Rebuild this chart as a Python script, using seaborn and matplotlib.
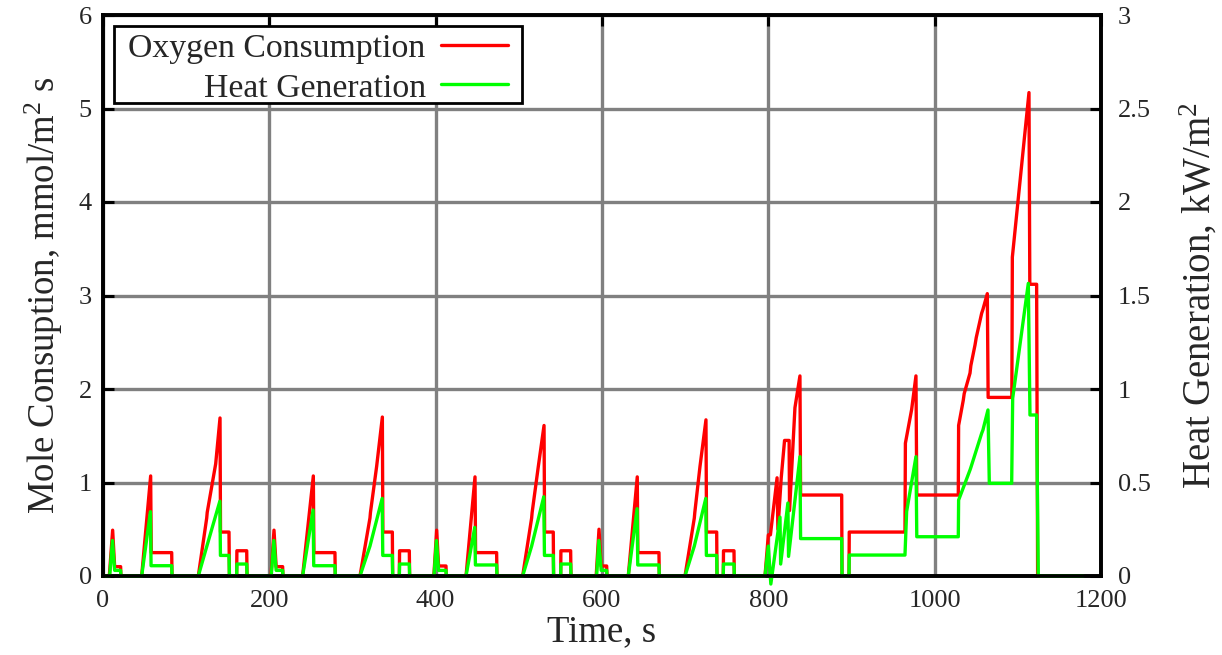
import matplotlib
matplotlib.use("Agg")
import matplotlib.pyplot as plt
import seaborn as sns
import pandas as pd
import numpy as np

# ---------------- data ----------------
oxygen_t = [
    0, 7.6, 11.6, 14.0, 21.2, 21.5, 46.5, 57.3, 58.0, 82.6, 83.0,
    114.6, 124.7, 125.3, 135.5, 140.7, 141.3, 151.5, 152.0, 160.7, 161.0, 172.8, 173.2,
    202.0, 205.6, 208.2, 216.0, 216.4, 240.0, 252.9, 253.6, 278.9, 279.3,
    309.0, 321.0, 321.6, 329.0, 335.9, 336.5, 347.9, 348.3, 356.3, 356.6, 368.3, 368.7,
    397.8, 401.2, 403.5, 412.4, 412.8, 436.5, 447.3, 448.0, 473.3, 473.7,
    504.6, 515.4, 516.0, 523.4, 530.3, 531.0, 541.4, 541.8, 550.3, 550.6, 562.3, 562.7,
    593.0, 596.4, 599.0, 605.6, 606.0, 631.6, 642.4, 643.1, 668.5, 668.9,
    699.8, 711.0, 711.6, 717.8, 725.0, 725.7, 737.9, 738.3, 745.8, 746.1, 758.7, 759.1,
    796.0, 800.0, 802.5, 810.5, 811.5, 815.5, 819.5, 825.0, 825.5, 832.0, 838.0, 838.8,
    888.2, 888.6, 897.0, 897.3, 964.3, 964.8, 972.3, 977.5, 978.5,
    1028.4, 1028.8, 1034.4, 1035.5, 1042.5, 1043.5, 1048.5, 1050.0, 1056.5, 1058.0,
    1063.3, 1064.3, 1092.8, 1093.4, 1113.4, 1114.4, 1122.6, 1123.8, 1178.7,
]
oxygen_v = [
    0, 0, 0.49, 0.10, 0.10, 0, 0, 1.07, 0.25, 0.25, 0,
    0, 0.62, 0.68, 1.20, 1.69, 0.47, 0.47, 0, 0, 0.27, 0.27, 0,
    0, 0.49, 0.10, 0.10, 0, 0, 1.07, 0.25, 0.25, 0,
    0, 0.62, 0.68, 1.17, 1.70, 0.47, 0.47, 0, 0, 0.27, 0.27, 0,
    0, 0.49, 0.107, 0.107, 0, 0, 1.06, 0.25, 0.25, 0,
    0, 0.62, 0.68, 1.17, 1.61, 0.47, 0.47, 0, 0, 0.27, 0.27, 0,
    0, 0.50, 0.107, 0.107, 0, 0, 1.06, 0.25, 0.25, 0,
    0, 0.62, 0.68, 1.17, 1.67, 0.47, 0.47, 0, 0, 0.27, 0.27, 0,
    0, 0.44, 0.44, 1.05, 0.50, 1.05, 1.45, 1.45, 0.70, 1.80, 2.14, 0.866,
    0.866, 0, 0, 0.47, 0.47, 1.42, 1.78, 2.14, 0.866,
    0.866, 1.61, 1.88, 1.95, 2.17, 2.25, 2.47, 2.55, 2.81, 2.85,
    3.02, 1.91, 1.91, 3.41, 5.17, 3.12, 3.12, 0, 0,
]

heat_t = [
    0, 8.0, 11.4, 14.0, 21.2, 21.5, 46.5, 57.0, 57.8, 82.6, 83.0,
    114.6, 124.7, 140.5, 141.2, 151.5, 152.0, 160.7, 161.0, 172.8, 173.2,
    202.3, 205.4, 208.2, 216.0, 216.4, 240.0, 252.6, 253.4, 278.9, 279.3,
    309.0, 321.0, 335.7, 336.4, 347.9, 348.3, 356.3, 356.6, 368.3, 368.7,
    398.0, 401.0, 403.5, 412.4, 412.8, 436.5, 447.0, 447.8, 473.3, 473.7,
    504.6, 515.4, 530.0, 530.8, 541.4, 541.8, 550.3, 550.6, 562.3, 562.7,
    593.5, 596.2, 599.0, 605.6, 606.0, 631.6, 642.2, 643.0, 668.5, 668.9,
    699.8, 711.0, 724.8, 725.5, 737.9, 738.3, 745.8, 746.1, 758.7, 759.1,
    796.0, 800.0, 803.0, 814.0, 814.8, 823.5, 824.3, 838.0, 838.8,
    888.2, 888.6, 897.0, 897.3, 964.3, 966.3, 977.5, 978.5,
    1028.4, 1028.8, 1042.5, 1043.5, 1056.5, 1058.0, 1064.1, 1065.7,
    1092.6, 1093.8, 1112.6, 1114.6, 1122.6, 1124.6, 1178.7,
]
heat_v = [
    0, 0, 0.19, 0.03, 0.03, 0, 0, 0.344, 0.055, 0.055, 0,
    0, 0.157, 0.40, 0.11, 0.11, 0, 0, 0.064, 0.064, 0,
    0, 0.19, 0.03, 0.03, 0, 0, 0.353, 0.055, 0.055, 0,
    0, 0.16, 0.415, 0.11, 0.11, 0, 0, 0.064, 0.064, 0,
    0, 0.19, 0.03, 0.03, 0, 0, 0.26, 0.059, 0.059, 0,
    0, 0.16, 0.424, 0.11, 0.11, 0, 0, 0.064, 0.064, 0,
    0, 0.19, 0.03, 0.03, 0, 0, 0.36, 0.059, 0.059, 0,
    0, 0.16, 0.415, 0.11, 0.11, 0, 0, 0.064, 0.064, 0,
    0, 0.16, -0.043, 0.315, 0.064, 0.39, 0.105, 0.638, 0.20,
    0.20, 0, 0, 0.112, 0.112, 0.345, 0.638, 0.21,
    0.21, 0.406, 0.567, 0.58, 0.763, 0.78, 0.888, 0.496,
    0.496, 0.95, 1.565, 0.861, 0.861, 0, 0,
]

x_ticks = [0, 200, 400, 600, 800, 1000, 1200]
left_ticks = [0, 1, 2, 3, 4, 5, 6]
right_ticks = [0, 0.5, 1, 1.5, 2, 2.5, 3]
right_tick_labels = ["0", "0.5", "1", "1.5", "2", "2.5", "3"]

series_labels = ["Oxygen Consumption", "Heat Generation"]
x_label = "Time, s"
left_label = "Mole Consuption, mmol/m$^2$ s"
right_label = "Heat Generation, kW/m$^2$"

# ---------------- style ----------------
sns.set_theme(style="white")
plt.rcParams["font.family"] = ["Liberation Serif", "DejaVu Serif"]
plt.rcParams["mathtext.default"] = "regular"

RED = "#ff0000"
GREEN = "#00ff00"
GRID = "#808080"
TICK_FS = 19
LEG_FS = 24.3

df_o = pd.DataFrame({"t": oxygen_t, "v": oxygen_v})
df_h = pd.DataFrame({"t": heat_t, "v": heat_v})

W, H = 1222, 655
fig = plt.figure(figsize=(W / 100, H / 100), dpi=100)
ax = fig.add_axes([103 / W, 1 - 576 / H, 998 / W, 561 / H])
ax2 = ax.twinx()

sns.lineplot(data=df_o, x="t", y="v", ax=ax, color=RED, lw=2.4,
             estimator=None, sort=False, legend=False)
sns.lineplot(data=df_h, x="t", y="v", ax=ax2, color=GREEN, lw=2.4,
             estimator=None, sort=False, legend=False)
for ln in ax2.get_lines():
    ln.set_clip_on(False)

ax.set_xlim(0, 1200)
ax.set_ylim(0, 6)
ax2.set_ylim(0, 3)
ax.set_xticks(x_ticks)
ax.set_yticks(left_ticks)
ax2.set_yticks(right_ticks)
ax2.set_yticklabels(right_tick_labels)

ax.grid(True, color=GRID, lw=2.4)
ax.set_axisbelow(True)

ax.tick_params(axis="both", direction="in", length=8, width=2.2, color="black",
               labelsize=TICK_FS, top=True, right=False, pad=8)
ax.tick_params(axis="x", pad=10)
ax2.tick_params(axis="y", direction="in", length=8, width=2.2, color="black",
                labelsize=TICK_FS, pad=12)

for a in (ax, ax2):
    for sp in a.spines.values():
        sp.set_color("black")
        sp.set_linewidth(2.6)

ax.set_xlabel(x_label, fontsize=26.5, labelpad=2)
ax.set_ylabel(left_label, fontsize=26.5, labelpad=10)
ax2.set_ylabel(right_label, fontsize=28, labelpad=20)

handles = [ax.get_lines()[0], ax2.get_lines()[0]]
leg = ax2.legend(handles, series_labels, loc="upper left",
                 bbox_to_anchor=(22 / 998, 1 - 11 / 561),
                 borderaxespad=0, fontsize=LEG_FS, markerfirst=False,
                 handlelength=2.0, handletextpad=0.45, borderpad=0.1,
                 labelspacing=0.27, fancybox=False, framealpha=1,
                 edgecolor="black")
frame = leg.get_frame()
frame.set_linewidth(2.0)
frame.set_boxstyle("square", pad=0.32)
frame.set_mutation_aspect(0.02)
for col in leg._legend_handle_box.get_children():
    col.align = "right"
# nudge entries slightly lower inside the frame
for txt in leg.get_texts():
    txt.set_y(-4)
for hl in leg.get_lines():
    hl.set_ydata(np.asarray(hl.get_ydata()) - 2.5)

fig.savefig("out.png", dpi=100)
